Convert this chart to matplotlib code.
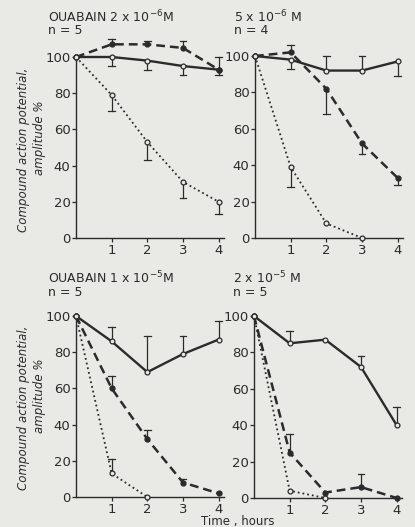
import numpy as np
import matplotlib
matplotlib.use('Agg')
import matplotlib.pyplot as plt

nan = np.nan
hours = [0, 1, 2, 3, 4]

# each panel: solid (open circles), dashed (filled dots), dotted (open circles)
# values and the far end of the one-sided error bars
p1_title, p1_n = 'OUABAIN 2 x 10$^{-6}$M', 'n = 5'
p1_solid = [100, 100, 98, 95, 93]
p1_solid_err = [nan, 95, 93, 90, 90]
p1_dash = [100, 107, 107, 105, 93]
p1_dash_err = [nan, 110, 109, 109, 100]
p1_dot = [100, 79, 53, 31, 20]
p1_dot_err = [nan, 70, 43, 22, 13]

p2_title, p2_n = '5 x 10$^{-6}$ M', 'n = 4'
p2_solid = [100, 98, 92, 92, 97]
p2_solid_err = [nan, 93, 100, 100, 89]
p2_dash = [100, 102, 82, 52, 33]
p2_dash_err = [nan, 106, 68, 46, 29]
p2_dot = [100, 39, 8, 0, nan]
p2_dot_err = [nan, 28, nan, nan, nan]

p3_title, p3_n = 'OUABAIN 1 x 10$^{-5}$M', 'n = 5'
p3_solid = [100, 86, 69, 79, 87]
p3_solid_err = [nan, 94, 89, 89, 97]
p3_dash = [100, 60, 32, 8, 2]
p3_dash_err = [nan, 67, 37, 10, nan]
p3_dot = [100, 13, 0, nan, nan]
p3_dot_err = [nan, 21, nan, nan, nan]

p4_title, p4_n = '2 x 10$^{-5}$ M', 'n = 5'
p4_solid = [100, 85, 87, 72, 40]
p4_solid_err = [nan, 92, nan, 78, 50]
p4_dash = [100, 25, 3, 6, 0]
p4_dash_err = [nan, 35, nan, 13, nan]
p4_dot = [100, 4, 0, nan, nan]
p4_dot_err = [nan, nan, nan, nan, nan]

ink = '#2b2b2b'
paper = '#e9e9e5'
plt.rcParams['font.family'] = ['DejaVu Sans']

W, H = 415, 527
fig = plt.figure(figsize=(W / 100, H / 100), dpi=100, facecolor=paper)


def px_axes(x0, y_top, y_bot, width=148):
    return fig.add_axes([x0 / W, 1 - y_bot / H, width / W, (y_bot - y_top) / H])


def errbars(ax, vals, ends):
    for x, v, e in zip(hours, vals, ends):
        if np.isnan(e) or np.isnan(v):
            continue
        ax.plot([x, x], [v, e], color=ink, lw=0.9, clip_on=False, zorder=2)
        ax.plot([x - 0.09, x + 0.09], [e, e], color=ink, lw=0.9, clip_on=False, zorder=2)


def panel(ax, solid, solid_err, dash, dash_err, dot, dot_err):
    ax.set_facecolor('none')
    errbars(ax, solid, solid_err)
    errbars(ax, dash, dash_err)
    errbars(ax, dot, dot_err)
    ax.plot(hours, solid, '-', color=ink, lw=1.7, marker='o', ms=3.5,
            mfc=paper, mec=ink, mew=0.9, clip_on=False, zorder=3)
    ax.plot(hours, dash, color=ink, lw=1.8, dashes=(3.5, 2), marker='o', ms=3.5,
            mfc=ink, mec=ink, clip_on=False, zorder=3)
    ax.plot(hours, dot, ':', color=ink, lw=1.3, marker='o', ms=3.5,
            mfc=paper, mec=ink, mew=0.9, clip_on=False, zorder=3)
    ax.set_xlim(0, 4.15)
    ax.set_ylim(0, 100)
    ax.set_xticks([1, 2, 3, 4])
    ax.set_yticks([0, 20, 40, 60, 80, 100])
    for s in ['top', 'right']:
        ax.spines[s].set_visible(False)
    for s in ['left', 'bottom']:
        ax.spines[s].set_color(ink)
        ax.spines[s].set_linewidth(1.0)
    ax.tick_params(colors=ink, labelsize=9.5, length=3, width=0.9, pad=1)


ax1 = px_axes(76, 57, 238)
ax2 = px_axes(255, 56, 238)
ax3 = px_axes(76, 316, 497)
ax4 = px_axes(254, 316, 498)

panel(ax1, p1_solid, p1_solid_err, p1_dash, p1_dash_err, p1_dot, p1_dot_err)
panel(ax2, p2_solid, p2_solid_err, p2_dash, p2_dash_err, p2_dot, p2_dot_err)
panel(ax3, p3_solid, p3_solid_err, p3_dash, p3_dash_err, p3_dot, p3_dot_err)
panel(ax4, p4_solid, p4_solid_err, p4_dash, p4_dash_err, p4_dot, p4_dot_err)

for (x, y), title, n in [((48, 17), p1_title, p1_n), ((234, 17), p2_title, p2_n),
                         ((48, 278), p3_title, p3_n), ((233, 278), p4_title, p4_n)]:
    fig.text(x / W, 1 - y / H, title, fontsize=9, color=ink, va='center', ha='left')
    fig.text(x / W, 1 - (y + 14) / H, n, fontsize=9, color=ink, va='center', ha='left')

for yc in [150, 408]:
    fig.text(24 / W, 1 - yc / H, 'Compound action potential,', rotation=90, style='italic',
             fontsize=8.5, color=ink, ha='center', va='center')
    fig.text(39 / W, 1 - (yc - 12) / H, 'amplitude %', rotation=90, style='italic',
             fontsize=8.5, color=ink, ha='center', va='center')

fig.text(238 / W, 1 - 522 / H, 'Time , hours', fontsize=8.5, color=ink, ha='center', va='center')

fig.savefig('out.png', dpi=100, facecolor=paper)
